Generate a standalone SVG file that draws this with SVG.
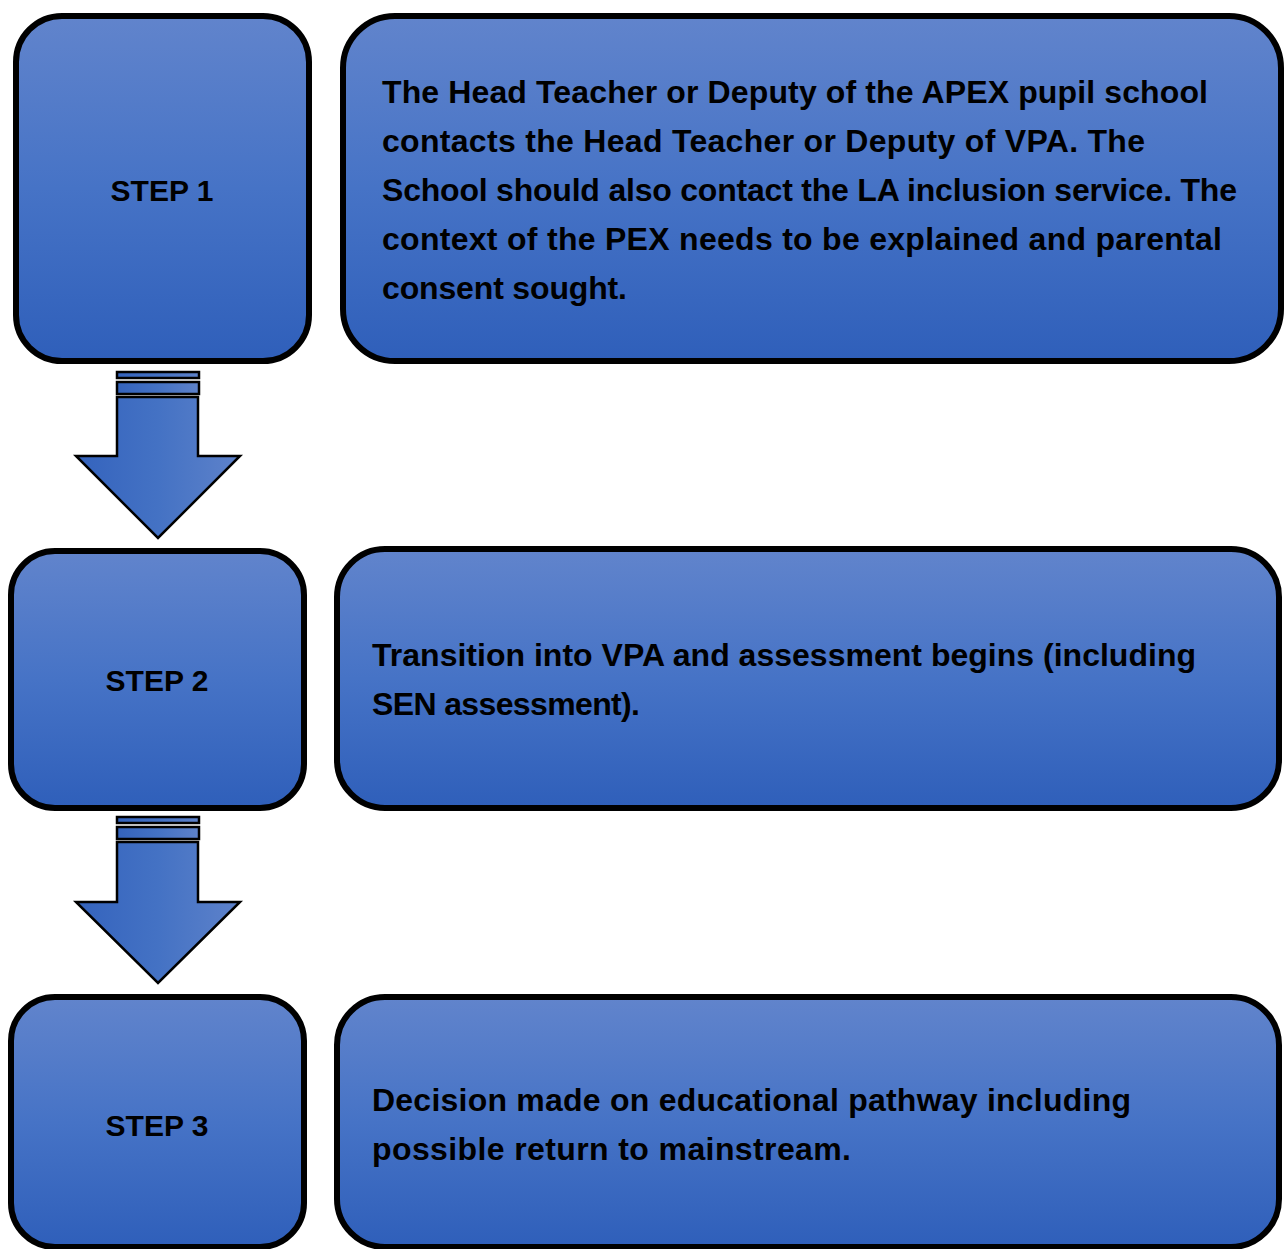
<svg xmlns="http://www.w3.org/2000/svg" width="1285" height="1249" viewBox="0 0 1285 1249">
<defs>
<linearGradient id="gv" x1="0" y1="0" x2="0" y2="1">
<stop offset="0" stop-color="#6184cc"/>
<stop offset="0.5" stop-color="#4673c6"/>
<stop offset="1" stop-color="#2f5fba"/>
</linearGradient>
<linearGradient id="gh" x1="0" y1="0" x2="1" y2="0">
<stop offset="0" stop-color="#3463bd"/>
<stop offset="0.5" stop-color="#4472c4"/>
<stop offset="1" stop-color="#5e82ca"/>
</linearGradient>
<style>
.box{fill:url(#gv);stroke:#000;stroke-width:6}
.arr{fill:url(#gh);stroke:#000;stroke-width:2.5;stroke-linejoin:miter}
.t{font-family:"Liberation Sans",Arial,sans-serif;font-weight:bold;font-size:32px;fill:#000}
.s{font-family:"Liberation Sans",Arial,sans-serif;font-weight:bold;font-size:30px;fill:#000;text-anchor:middle}
</style>
</defs>
<rect width="1285" height="1249" fill="#fff"/>
<g id="connectors">
<g id="arrow1">
<rect class="arr" x="117" y="372" width="82" height="6"/>
<rect class="arr" x="117" y="382" width="82" height="12"/>
<path class="arr" d="M117 397 H198 V456 H240 L158 538 L76 456 H117 Z"/>
</g>
<g id="arrow2">
<rect class="arr" x="117" y="817" width="82" height="6"/>
<rect class="arr" x="117" y="827" width="82" height="12"/>
<path class="arr" d="M117 842 H198 V902 H240 L158 983 L76 902 H117 Z"/>
</g>
</g>
<g id="step1">
<rect class="box" x="16" y="16" width="293" height="345" rx="46"/>
<text class="s" x="162" y="201">STEP 1</text>
</g>
<g id="desc1">
<rect class="box" x="343" y="16" width="938" height="345" rx="52"/>
<text class="t" x="382" y="103" textLength="826">The Head Teacher or Deputy of the APEX pupil school</text>
<text class="t" x="382" y="152" textLength="763">contacts the Head Teacher or Deputy of VPA. The</text>
<text class="t" x="382" y="201" textLength="855">School should also contact the LA inclusion service. The</text>
<text class="t" x="382" y="250" textLength="840">context of the PEX needs to be explained and parental</text>
<text class="t" x="382" y="299" textLength="245">consent sought.</text>
</g>
<g id="step2">
<rect class="box" x="11" y="551" width="293" height="257" rx="44"/>
<text class="s" x="157" y="691">STEP 2</text>
</g>
<g id="desc2">
<rect class="box" x="337" y="549" width="942" height="259" rx="48"/>
<text class="t" x="372" y="666" textLength="824">Transition into VPA and assessment begins (including</text>
<text class="t" x="372" y="715" textLength="268">SEN assessment).</text>
</g>
<g id="step3">
<rect class="box" x="11" y="997" width="293" height="250" rx="44"/>
<text class="s" x="157" y="1136">STEP 3</text>
</g>
<g id="desc3">
<rect class="box" x="337" y="997" width="942" height="250" rx="48"/>
<text class="t" x="372" y="1111" textLength="759">Decision made on educational pathway including</text>
<text class="t" x="372" y="1160" textLength="479">possible return to mainstream.</text>
</g>
</svg>
